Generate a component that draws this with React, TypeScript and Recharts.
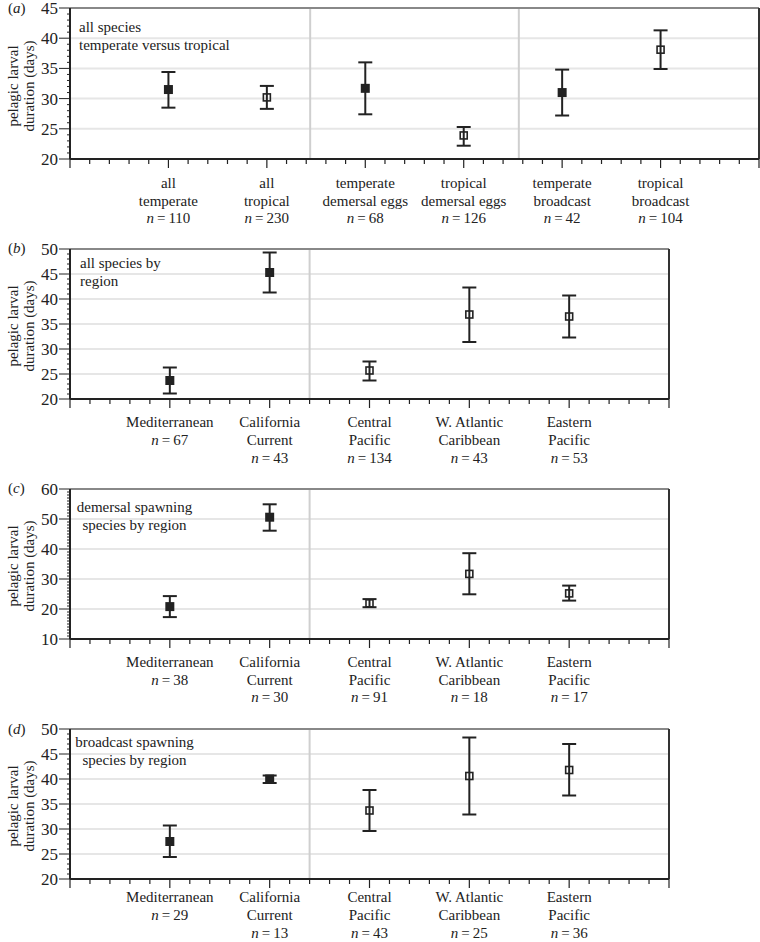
import React from 'react';
import { ComposedChart, Scatter, ErrorBar, XAxis, YAxis, ReferenceLine } from 'recharts';

const FONT = '"Liberation Serif", "Times New Roman", Times, Tinos, "Noto Serif", "DejaVu Serif", serif';
const INK = '#222';
const TXT = { fontFamily: FONT };

// panel (a)
const aCats = [['all', 'temperate'], ['all', 'tropical'], ['temperate', 'demersal eggs'], ['tropical', 'demersal eggs'], ['temperate', 'broadcast'], ['tropical', 'broadcast']];
const aN = [110, 230, 68, 126, 42, 104];
const aMean = [31.5, 30.2, 31.7, 23.9, 31.0, 38.1];
const aLow = [28.5, 28.3, 27.4, 22.2, 27.2, 34.9];
const aHigh = [34.4, 32.1, 36.0, 25.3, 34.8, 41.3];
const aFilled = [true, false, true, false, true, false];

// panels (b)-(d) share regions
const regionCats = [['Mediterranean'], ['California', 'Current'], ['Central', 'Pacific'], ['W. Atlantic', 'Caribbean'], ['Eastern', 'Pacific']];
const regionFilled = [true, true, false, false, false];

const bN = [67, 43, 134, 43, 53];
const bMean = [23.7, 45.3, 25.7, 36.9, 36.5];
const bLow = [21.1, 41.3, 23.7, 31.4, 32.3];
const bHigh = [26.3, 49.3, 27.5, 42.3, 40.7];

const cN = [38, 30, 91, 18, 17];
const cMean = [20.8, 50.6, 21.9, 31.7, 25.2];
const cLow = [17.3, 46.1, 20.6, 24.9, 22.8];
const cHigh = [24.3, 54.9, 23.3, 38.6, 27.8];

const dN = [29, 13, 43, 25, 36];
const dMean = [27.5, 40.0, 33.7, 40.6, 41.8];
const dLow = [24.4, 39.2, 29.6, 32.9, 36.7];
const dHigh = [30.7, 40.7, 37.8, 48.3, 47.0];

const Square = (props: any) => {
  const { cx, cy, payload } = props;
  if (payload.filled) {
    return <rect x={cx - 4.5} y={cy - 4.5} width={9} height={9} fill={INK} />;
  }
  return <rect x={cx - 3.5} y={cy - 3.5} width={7} height={7} fill="none" stroke={INK} strokeWidth={1.6} />;
};

function Panel({ top, plotH, right, xMax, yMin, yMax, yStep, seps, labelY, lineGap, cats, n, mean, low, high, filled }: any) {
  const data = mean.map((m: number, i: number) => ({
    x: i + 1,
    mean: m,
    err: [m - low[i], high[i] - m],
    filled: filled[i],
  }));
  const xTicks = Array.from({ length: xMax * 5 + 1 }, (_, i) => i / 5);
  const yTicks = Array.from({ length: yMax - yMin + 1 }, (_, i) => yMin + i);
  const grid = yTicks.filter((v) => v > yMin && v < yMax && v % yStep === 0);

  const XTick = (p: any) => {
    const v = p.payload.value;
    const major = Math.abs(v - Math.round(v)) < 1e-6;
    const idx = Math.round(v) - 1;
    const lines = major && cats[idx] ? cats[idx] : null;
    return (
      <g>
        <line x1={p.x} x2={p.x} y1={p.y} y2={p.y + (major ? 9 : 5)} stroke={INK} strokeWidth={1.2} />
        {lines && (
          <text x={p.x} y={p.y + labelY} textAnchor="middle" style={TXT} fontSize={15} fill={INK}>
            {lines.map((l: string, k: number) => (
              <tspan key={k} x={p.x} dy={k === 0 ? 0 : lineGap}>{l}</tspan>
            ))}
            <tspan x={p.x} dy={lineGap} fontStyle="italic">n</tspan>
            <tspan>{'\u2009=\u2009' + n[idx]}</tspan>
          </text>
        )}
      </g>
    );
  };

  const YTick = (p: any) => {
    const v = p.payload.value;
    const major = v % yStep === 0;
    return (
      <g>
        <line x1={p.x - (major ? 11 : 3)} x2={p.x} y1={p.y} y2={p.y} stroke={INK} strokeWidth={1} />
        {major && (
          <text x={p.x - 12} y={p.y} dy="0.35em" textAnchor="end" style={TXT} fontSize={17} fill={INK}>{v}</text>
        )}
      </g>
    );
  };

  return (
    <div style={{ position: 'absolute', left: 0, top }}>
      <ComposedChart width={760} height={8 + plotH + 72} data={data} margin={{ top: 8, right, left: 0, bottom: 0 }}>
        <XAxis type="number" dataKey="x" domain={[0, xMax]} ticks={xTicks} interval={0} tickSize={0} tickMargin={0}
          tickLine={false} tick={<XTick />} height={72} axisLine={{ stroke: INK, strokeWidth: 2 }} />
        <YAxis type="number" dataKey="mean" domain={[yMin, yMax]} ticks={yTicks} interval={0} tickSize={0} tickMargin={0}
          tickLine={false} tick={<YTick />} width={70} axisLine={{ stroke: INK, strokeWidth: 2 }} />
        {grid.map((v: number) => (
          <ReferenceLine key={'g' + v} y={v} stroke="#e6e6e6" strokeWidth={2} />
        ))}
        {seps.map((s: number) => (
          <ReferenceLine key={'s' + s} x={s} stroke="#cfcfcf" strokeWidth={2} />
        ))}
        <ReferenceLine y={yMax} stroke="#888" strokeWidth={2} />
        <ReferenceLine x={xMax} stroke="#333" strokeWidth={2} />
        <Scatter dataKey="mean" shape={<Square />} isAnimationActive={false}>
          <ErrorBar dataKey="err" direction="y" width={7} stroke={INK} strokeWidth={2} isAnimationActive={false} />
        </Scatter>
      </ComposedChart>
    </div>
  );
}

const panelLabels = [['a', 13], ['b', 253], ['c', 493], ['d', 734]];
const notes = [
  { lines: ['all species', 'temperate versus tropical'], x: 79, y: 31.7, anchor: 'start' },
  { lines: ['all species by', 'region'], x: 80, y: 267.7, anchor: 'start' },
  { lines: ['demersal spawning', 'species by region'], x: 134.5, y: 512.3, anchor: 'middle' },
  { lines: ['broadcast spawning', 'species by region'], x: 134.5, y: 746.7, anchor: 'middle' },
];
const titleCenters = [86, 326, 566, 806];

export default function App() {
  return (
    <div style={{ position: 'absolute', left: 0, top: 0, width: 760, height: 942, background: '#fff', fontFamily: FONT }}>
      <Panel top={0} plotH={151} right={1} xMax={7} yMin={20} yMax={45} yStep={5} seps={[2.44, 4.56]} labelY={29} lineGap={17.5}
        cats={aCats} n={aN} mean={aMean} low={aLow} high={aHigh} filled={aFilled} />
      <Panel top={241} plotH={150} right={91} xMax={6} yMin={20} yMax={50} yStep={5} seps={[2.4]} labelY={28.3} lineGap={17.7}
        cats={regionCats} n={bN} mean={bMean} low={bLow} high={bHigh} filled={regionFilled} />
      <Panel top={481} plotH={150} right={91} xMax={6} yMin={10} yMax={60} yStep={10} seps={[2.4]} labelY={28} lineGap={17.7}
        cats={regionCats} n={cN} mean={cMean} low={cLow} high={cHigh} filled={regionFilled} />
      <Panel top={721} plotH={150} right={91} xMax={6} yMin={20} yMax={50} yStep={5} seps={[2.4]} labelY={23} lineGap={18}
        cats={regionCats} n={dN} mean={dMean} low={dLow} high={dHigh} filled={regionFilled} />
      <svg width={760} height={942} style={{ position: 'absolute', left: 0, top: 0, pointerEvents: 'none' }}>
        {panelLabels.map(([l, y]) => (
          <text key={l as string} x={8} y={y as number} style={TXT} fontSize={15} fill={INK}>
            (<tspan fontStyle="italic">{l}</tspan>)
          </text>
        ))}
        {notes.map((nt, i) => (
          <text key={i} x={nt.x} y={nt.y} textAnchor={nt.anchor as any} style={TXT} fontSize={15} fill={INK}>
            {nt.lines.map((l, k) => (
              <tspan key={k} x={nt.x} dy={k === 0 ? 0 : 18}>{l}</tspan>
            ))}
          </text>
        ))}
        {titleCenters.map((cy, i) => (
          <g key={i}>
            <text transform={`translate(17.5, ${cy}) rotate(-90)`} textAnchor="middle" style={TXT} fontSize={15} fill={INK}>pelagic larval</text>
            <text transform={`translate(34, ${cy}) rotate(-90)`} textAnchor="middle" style={TXT} fontSize={15} fill={INK}>duration (days)</text>
          </g>
        ))}
      </svg>
    </div>
  );
}
